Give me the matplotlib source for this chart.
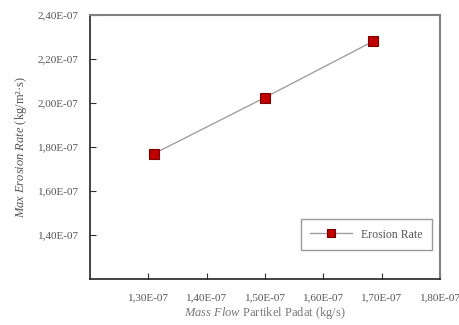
import matplotlib
matplotlib.use("Agg")
import matplotlib.pyplot as plt
from matplotlib.ticker import FuncFormatter

# data
mass_flow = [1.31e-7, 1.50e-7, 1.685e-7]
erosion_rate = [1.77e-7, 2.025e-7, 2.28e-7]
x_ticks = [1.3e-7, 1.4e-7, 1.5e-7, 1.6e-7, 1.7e-7, 1.8e-7]
y_ticks = [1.4e-7, 1.6e-7, 1.8e-7, 2.0e-7, 2.2e-7, 2.4e-7]

plt.rcParams['font.family'] = ['Liberation Serif', 'DejaVu Serif']
plt.rcParams['mathtext.fontset'] = 'custom'
plt.rcParams['mathtext.rm'] = 'Liberation Serif'
plt.rcParams['mathtext.it'] = 'Liberation Serif:italic'


def sci_comma(v, pos):
    m = v / 1e-7
    return "{:.2f}E-07".format(m).replace(".", ",")


fig = plt.figure(figsize=(4.6, 3.25), dpi=100)
ax = fig.add_axes([90 / 460, 1 - 279 / 325, 350 / 460, 264 / 325])

ax.plot(mass_flow, erosion_rate, color='#a0a0a0', lw=1.0, marker='s',
        markersize=7, markerfacecolor='#c00000', markeredgecolor='#7a0000',
        markeredgewidth=0.8, label='Erosion Rate')

ax.set_xlim(1.2e-7, 1.8e-7)
ax.set_ylim(1.2e-7, 2.4e-7)
ax.set_xticks(x_ticks)
ax.set_yticks(y_ticks)
ax.xaxis.set_major_formatter(FuncFormatter(sci_comma))
ax.yaxis.set_major_formatter(FuncFormatter(sci_comma))
ax.tick_params(direction='in', length=4, width=0.8, labelsize=8,
               colors='#333333', labelcolor='#555555', pad=8)
ax.tick_params(axis='x', pad=10)

for side in ['left', 'bottom']:
    ax.spines[side].set_color('#222222')
    ax.spines[side].set_linewidth(1.2)
for side in ['top', 'right']:
    ax.spines[side].set_color('#808080')
    ax.spines[side].set_linewidth(1.5)

ax.set_xlabel(r'$\it{Mass\ Flow}$ Partikel Padat (kg/s)', color='#777777',
              fontsize=9, labelpad=2)
ax.set_ylabel(r'$\it{Max\ Erosion\ Rate}$ (kg/m²·s)', color='#555555',
              fontsize=9, labelpad=6)

leg = ax.legend(loc='lower right', bbox_to_anchor=(0.977, 0.11), fontsize=8.5,
                frameon=True, fancybox=False, handlelength=3.5,
                borderpad=0.8, borderaxespad=0, markerscale=0.75,
                labelcolor='#555555')
leg.get_frame().set_edgecolor('#808080')
leg.get_frame().set_linewidth(1.0)

fig.savefig('out.png', dpi=100)
